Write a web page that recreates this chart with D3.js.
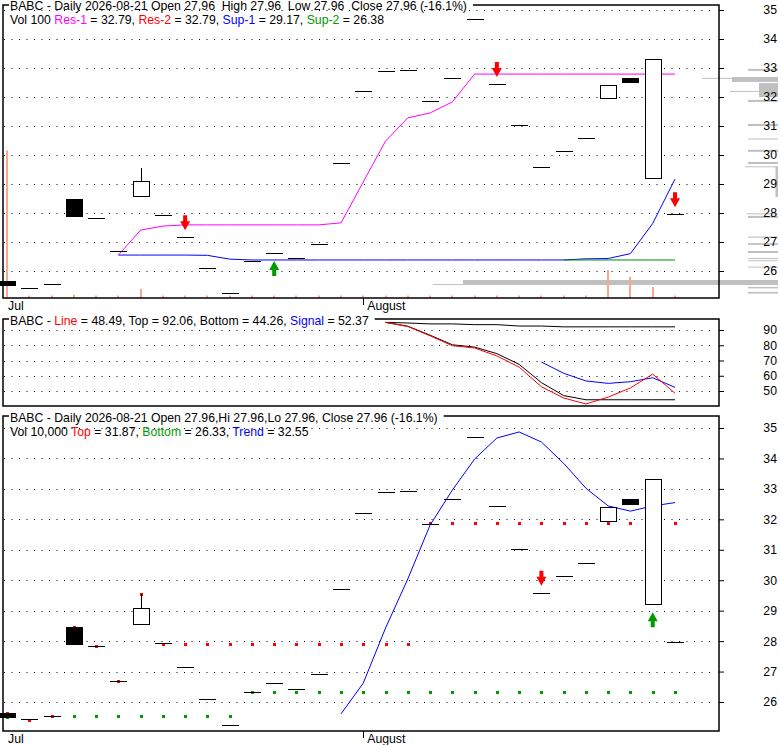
<!doctype html>
<html>
  <head>
    <meta charset="utf-8">
    <script src="https://cdnjs.cloudflare.com/ajax/libs/d3/7.8.5/d3.min.js"></script>
    <style>
      body { margin: 0; background: #fff; }
      svg { display: block; }
      text {
        font-family: "Liberation Sans", Arial, sans-serif;
        font-size: 12.25px;
        fill: #000;
      }
      .grid line { stroke: #000; stroke-width: 1px; stroke-dasharray: 1, 6.5; }
      .frame { fill: none; stroke: #000; stroke-width: 1.5px; }
      .ind { fill: none; stroke-width: 1px; }
    </style>
  </head>
  <body>
    <svg width="780" height="745"></svg>
    <script>
      // ---- data ----
      var dates = ["2026-07-10","2026-07-13","2026-07-14","2026-07-15","2026-07-16","2026-07-17",
        "2026-07-20","2026-07-21","2026-07-22","2026-07-23","2026-07-24","2026-07-27","2026-07-28",
        "2026-07-29","2026-07-30","2026-07-31","2026-08-03","2026-08-04","2026-08-05","2026-08-06",
        "2026-08-07","2026-08-10","2026-08-11","2026-08-12","2026-08-13","2026-08-14","2026-08-17",
        "2026-08-18","2026-08-19","2026-08-20","2026-08-21"];
      var open  = [25.65,25.43,25.55,28.47,27.83,26.69,28.57,27.93,27.16,26.10,25.24,26.33,26.62,26.44,26.92,29.72,
        32.21,32.90,32.93,31.86,32.66,34.69,32.45,31.03,29.59,30.14,30.58,31.95,32.66,29.21,27.96];
      var high  = [25.65,25.43,25.55,28.47,27.83,26.69,29.56,27.93,27.16,26.10,25.24,26.33,26.62,26.44,26.92,29.72,
        32.21,32.90,32.93,31.86,32.66,34.69,32.45,31.03,29.59,30.14,30.58,32.41,32.66,33.31,27.96];
      var low   = [25.52,25.43,25.55,27.90,27.83,26.69,28.57,27.93,27.16,26.10,25.24,26.33,26.62,26.44,26.92,29.72,
        32.21,32.90,32.93,31.86,32.66,34.69,32.45,31.03,29.59,30.14,30.58,31.95,32.52,29.21,27.96];
      var close = [25.52,25.43,25.55,27.90,27.83,26.69,29.10,27.93,27.16,26.10,25.24,26.33,26.62,26.44,26.92,29.72,
        32.21,32.90,32.93,31.86,32.66,34.69,32.45,31.03,29.59,30.14,30.58,32.41,32.52,33.31,27.96];
      var volume = [5900,100,100,130,100,100,360,100,100,100,100,100,100,100,100,100,
        100,100,100,100,100,100,100,100,100,100,100,1120,840,440,100];

      var res1 = [null,null,null,null,null,26.55,27.41,27.55,27.59,27.59,27.59,27.59,27.59,27.59,27.59,27.66,
        29.07,30.48,31.28,31.45,31.83,32.79,32.79,32.79,32.79,32.79,32.79,32.79,32.79,32.79,32.79];
      var sup1 = [null,null,null,null,null,26.55,26.55,26.55,26.55,26.54,26.41,26.38,26.38,26.38,26.38,26.38,
        26.38,26.38,26.38,26.38,26.38,26.38,26.38,26.38,26.38,26.38,26.42,26.43,26.60,27.64,29.17];
      var sup2 = [null,null,null,null,null,null,null,null,null,null,null,null,null,null,null,null,
        null,null,null,null,null,null,null,null,null,26.38,26.38,26.38,26.38,26.38,26.38];

      // volume at price (right side histogram)
      var vpLow  = [32.90,32.64,32.52,32.19,32.00,31.83,31.00,30.54,30.11,29.69,29.58,28.55,27.96,27.83,
        27.15,26.90,26.62,26.42,26.34,26.12,25.55,25.52,25.40,25.22];
      var vpHigh = [32.97,32.66,32.69,32.21,32.48,31.90,31.07,30.57,30.18,29.76,29.61,29.59,27.99,27.90,
        27.19,26.96,26.69,26.45,26.37,26.15,25.69,25.55,25.45,25.28];
      var vpVolume = [300,760,460,480,190,300,300,300,300,300,330,25,310,300,
        300,300,300,300,300,300,3150,3450,300,300];

      var topArrowDates = ["2026-07-22","2026-07-28","2026-08-11","2026-08-21"];
      var topArrowType  = ["sell","buy","sell","sell"];

      // oscillator panel
      var oscLine   = [null,null,null,null,null,null,null,null,null,null,null,null,null,null,null,null,null,
        95.0,92.3,86.2,79.7,78.2,73.0,65.7,52.8,45.4,41.5,46.0,52.0,61.1,48.49];
      var oscTop    = [null,null,null,null,null,null,null,null,null,null,null,null,null,null,null,null,null,
        95.0,94.6,94.0,94.0,93.5,93.5,92.6,92.6,92.06,92.06,92.06,92.06,92.06,92.06];
      var oscBottom = [null,null,null,null,null,null,null,null,null,null,null,null,null,null,null,null,null,
        95.0,92.5,86.6,80.3,78.8,74.5,67.5,55.5,47.0,44.26,44.26,44.26,44.26,44.26];
      var oscSignal = [null,null,null,null,null,null,null,null,null,null,null,null,null,null,null,null,null,
        null,null,null,null,null,null,null,69.0,61.6,56.6,55.0,56.1,58.7,52.37];

      // channel panel
      var chTop    = [25.65,25.41,25.55,28.47,27.83,26.69,29.56,27.92,27.92,27.92,27.92,27.92,27.92,27.92,27.92,27.92,
        27.92,27.92,27.92,31.87,31.87,31.87,31.87,31.87,31.87,31.87,31.87,31.87,31.87,null,31.87];
      var chBottom = [25.52,null,null,25.53,25.53,25.53,25.53,25.53,25.53,25.53,25.53,26.33,26.33,26.33,26.33,26.33,
        26.33,26.33,26.33,26.33,26.33,26.33,26.33,26.33,26.33,26.33,26.33,26.33,26.33,26.33,26.33];
      var trend    = [null,null,null,null,null,null,null,null,null,null,null,null,null,null,null,25.61,
        26.62,28.43,30.04,31.81,32.96,33.98,34.67,34.87,34.54,33.84,33.02,32.44,32.27,32.44,32.55];
      var botArrowDates = ["2026-08-13","2026-08-20"];
      var botArrowType  = ["sell","buy"];

      var priceTicks = [26,27,28,29,30,31,32,33,34,35];
      var oscTicks = [50,60,70,80,90];
      var monthDates = ["2026-07-10","2026-08-03"];
      var monthNames = ["Jul","August"];

      // ---- layout ----
      var svg = d3.select("svg");
      var frameL = 3, frameR = 719;
      var last = dates.length - 1;
      var f2 = d3.format(".2f");
      var RED = "#ff0000", BLUE = "#0000ff", GREEN = "#009900", MAGENTA = "#ff00ff";

      var x = d3.scalePoint().domain(dates).range([7, 675]);
      var yTop = d3.scaleLinear().domain([26, 35]).range([271, 10]);
      var yVol = d3.scaleLinear().domain([0, 6000]).range([298, 148]);
      var wVP  = d3.scaleLinear().domain([0, 1000]).range([0, 100]);
      var yMid = d3.scaleLinear().domain([50, 90]).range([391, 330]);
      var yBot = d3.scaleLinear().domain([26, 35]).range([702, 428]);

      var pct = (close[last] - close[last - 1]) / close[last - 1] * 100;
      var pctTxt = "(" + pct.toFixed(1) + "%)";

      function grid(g, y, ticks) {
        g.append("g").attr("class", "grid").selectAll("line")
          .data(ticks).enter().append("line")
            .attr("x1", frameL + 1).attr("x2", frameR - 3)
            .attr("y1", d => Math.round(y(d)) + 0.5)
            .attr("y2", d => Math.round(y(d)) + 0.5);
      }

      function axis(g, y, ticks) {
        g.append("g")
          .attr("transform", `translate(${frameR},0)`)
          .call(d3.axisRight(y).tickValues(ticks).tickSize(5).tickFormat(d3.format("d")))
          .call(a => a.select(".domain").remove())
          .call(a => a.selectAll("text").attr("x", 58).attr("text-anchor", "end"));
      }

      function frame(g, top, bottom) {
        g.append("rect").attr("class", "frame")
          .attr("x", frameL).attr("y", top)
          .attr("width", frameR - frameL).attr("height", bottom - top);
      }

      // rows: array of [ [text, color], ... ] ; first row sits on the frame line
      function title(g, top, baselines, rows) {
        var tg = g.append("g");
        var cover = tg.append("rect").attr("fill", "#fff");
        var t0 = null;
        rows.forEach(function (row, i) {
          var t = tg.append("text").attr("x", 10).attr("y", baselines[i]).style("white-space", "pre");
          row.forEach(p => t.append("tspan").style("fill", p[1] || "#000").text(p[0]));
          if (i === 0) t0 = t;
        });
        var w = t0.node().getComputedTextLength();
        cover.attr("x", frameL + 6).attr("y", top - 2)
          .attr("width", w + 7).attr("height", 4);
      }

      function months(g, bottom) {
        monthDates.forEach(function (d, i) {
          if (i > 0) {
            g.append("line").attr("stroke", "#000")
              .attr("x1", Math.round(x(d)) + 0.5).attr("x2", Math.round(x(d)) + 0.5)
              .attr("y1", bottom).attr("y2", bottom + 7);
          }
          g.append("text")
            .attr("x", i === 0 ? frameL + 5 : x(d) + 4)
            .attr("y", bottom + 12)
            .text(monthNames[i]);
        });
      }

      function series(g, y, values, color) {
        var line = d3.line()
          .defined(d => d[1] != null)
          .x(d => x(d[0]))
          .y(d => y(d[1]));
        g.append("path").attr("class", "ind")
          .attr("stroke", color)
          .attr("d", line(dates.map((d, i) => [d, values[i]])));
      }

      function candles(g, y) {
        var cg = g.append("g").attr("shape-rendering", "crispEdges");
        dates.forEach(function (d, i) {
          var cx = Math.round(x(d));
          var top = Math.max(open[i], close[i]), bot = Math.min(open[i], close[i]);
          if (high[i] > top) {
            cg.append("line").attr("stroke", "#000")
              .attr("x1", cx + 0.5).attr("x2", cx + 0.5)
              .attr("y1", y(high[i])).attr("y2", y(top));
          }
          if (top === bot) {
            cg.append("line").attr("stroke", "#000").attr("stroke-width", 1.3)
              .attr("x1", cx - 8).attr("x2", cx + 9)
              .attr("y1", Math.round(y(top)) + 0.5).attr("y2", Math.round(y(top)) + 0.5);
          } else {
            var down = close[i] < open[i];
            cg.append("rect")
              .attr("x", cx - 8 + 0.5).attr("width", 16)
              .attr("y", Math.round(y(top)) + 0.5)
              .attr("height", Math.max(1, Math.round(y(bot)) - Math.round(y(top))))
              .attr("fill", down ? "#000" : "#fff")
              .attr("stroke", "#000").attr("stroke-width", 1.3);
          }
        });
      }

      function arrows(g, y, arrowDates, types) {
        arrowDates.forEach(function (d, k) {
          var i = dates.indexOf(d);
          var cx = x(d);
          var sell = types[k] === "sell";
          var tip = sell ? y(high[i]) - 7 : y(low[i]) + 8;
          var s = sell ? 1 : -1;
          var p = `M${cx - 2},${tip - s * 15}L${cx + 2},${tip - s * 15}L${cx + 2},${tip - s * 9}` +
                  `L${cx + 5},${tip - s * 9}L${cx},${tip}L${cx - 5},${tip - s * 9}L${cx - 2},${tip - s * 9}Z`;
          g.append("path").attr("d", p).attr("fill", sell ? RED : GREEN);
        });
      }

      function dots(g, y, values, color) {
        g.append("g").selectAll("rect")
          .data(dates.map((d, i) => [d, values[i]]).filter(d => d[1] != null))
          .enter().append("rect")
            .attr("x", d => Math.round(x(d[0])) - 1)
            .attr("y", d => Math.round(y(d[1])) - 1)
            .attr("width", 3).attr("height", 3)
            .attr("fill", color);
      }

      // ---- top panel: price, pivots, volume ----
      var gTop = svg.append("g");
      grid(gTop, yTop, priceTicks);

      gTop.append("g").selectAll("rect")
        .data(vpVolume).enter().append("rect")
          .attr("x", (d) => 778 - wVP(d))
          .attr("width", d => wVP(d))
          .attr("y", (d, i) => yTop(vpHigh[i]))
          .attr("height", (d, i) => Math.max(1, yTop(vpLow[i]) - yTop(vpHigh[i])))
          .attr("fill", "#c0c0c0");

      gTop.append("g").selectAll("rect")
        .data(volume).enter().append("rect")
          .attr("x", (d, i) => Math.round(x(dates[i])) - 1)
          .attr("width", 2)
          .attr("y", d => yVol(d))
          .attr("height", d => yVol(0) - yVol(d))
          .attr("fill", "#f9a88a");

      series(gTop, yTop, sup1, BLUE);
      series(gTop, yTop, sup2, "#008800");
      series(gTop, yTop, res1, MAGENTA);
      candles(gTop, yTop);
      arrows(gTop, yTop, topArrowDates, topArrowType);
      frame(gTop, 5, 298);
      axis(gTop, yTop, priceTicks);
      months(gTop, 298);
      title(gTop, 5, [10, 24], [
        [["BABC - Daily " + dates[last] + " Open " + f2(open[last]) + "  High " + f2(high[last]) +
          "  Low " + f2(low[last]) + "  Close " + f2(close[last]) + " " + pctTxt]],
        [["Vol " + volume[last] + " "], ["Res-1", MAGENTA], [" = " + f2(res1[last]) + ", "],
         ["Res-2", RED], [" = " + f2(res1[last]) + ", "],
         ["Sup-1", BLUE], [" = " + f2(sup1[last]) + ", "],
         ["Sup-2", GREEN], [" = " + f2(sup2[last])]]
      ]);

      // ---- middle panel: oscillator ----
      var gMid = svg.append("g");
      grid(gMid, yMid, oscTicks);
      series(gMid, yMid, oscTop, "#000");
      series(gMid, yMid, oscBottom, "#000");
      series(gMid, yMid, oscSignal, BLUE);
      series(gMid, yMid, oscLine, RED);
      frame(gMid, 319, 406);
      axis(gMid, yMid, oscTicks);
      title(gMid, 319, [325], [
        [["BABC - "], ["Line", RED], [" = " + f2(oscLine[last]) + ", Top = " + f2(oscTop[last]) +
          ", Bottom = " + f2(oscBottom[last]) + ", "], ["Signal", BLUE], [" = " + f2(oscSignal[last])]]
      ]);

      // ---- bottom panel: channel and trend ----
      var gBot = svg.append("g");
      grid(gBot, yBot, priceTicks);
      dots(gBot, yBot, chBottom, GREEN);
      dots(gBot, yBot, chTop, RED);
      series(gBot, yBot, trend, BLUE);
      candles(gBot, yBot);
      arrows(gBot, yBot, botArrowDates, botArrowType);
      frame(gBot, 416, 731);
      axis(gBot, yBot, priceTicks);
      months(gBot, 731);
      title(gBot, 416, [422, 436], [
        [["BABC - Daily " + dates[last] + " Open " + f2(open[last]) + ",Hi " + f2(high[last]) +
          ",Lo " + f2(low[last]) + ", Close " + f2(close[last]) + " " + pctTxt]],
        [["Vol 10,000 "], ["Top", RED], [" = " + f2(chTop[last]) + ", "],
         ["Bottom", GREEN], [" = " + f2(chBottom[last]) + ", "],
         ["Trend", BLUE], [" = " + f2(trend[last])]]
      ]);
    </script>
  </body>
</html>
